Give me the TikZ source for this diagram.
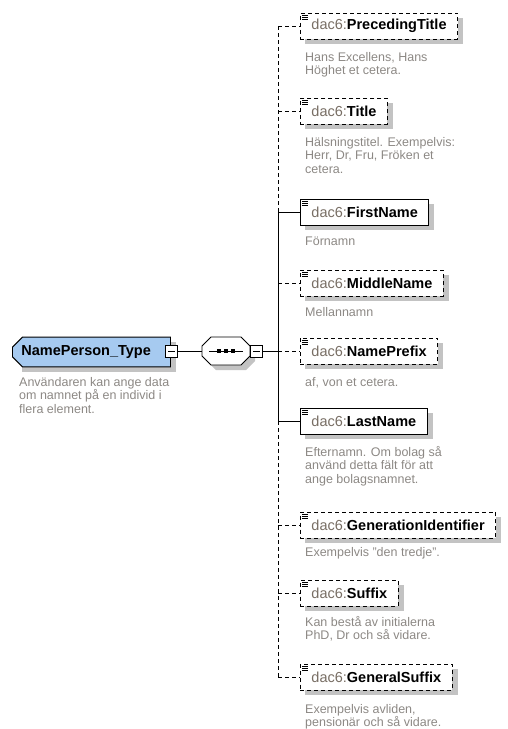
\documentclass[tikz,border=0pt]{standalone}
\usepackage{fontspec}
\setmainfont{Liberation Sans}
\usetikzlibrary {shapes.misc}
\usetikzlibrary {backgrounds}

\definecolor{rootblue}{RGB}{166,202,240}
\definecolor{prefixgray}{RGB}{120,110,100}
\definecolor{descgray}{RGB}{140,136,132}
\definecolor{shadowgray}{RGB}{195,195,195}

\begin{document}
\begin{tikzpicture}[x=1pt,y=-1pt,
    elem/.style={draw,line width=0.9pt,fill=white,anchor=west,minimum height=26pt,
        inner xsep=11pt,inner ysep=0pt,font=\fontsize{14.5}{17}\selectfont,
        path picture={\draw[solid,line width=0.8pt]
            ([shift={(2pt,-2pt)}]path picture bounding box.north west) -- ++(6pt,0pt)
            ++(-6pt,-2.2pt) -- ++(6pt,0pt) ++(-6pt,-2.2pt) -- ++(6pt,0pt);}},
    optelem/.style={elem,dash pattern=on 4pt off 3pt},
    desc/.style={anchor=north west,align=left,inner sep=0pt,text=descgray,
        font=\fontsize{12.5}{13.5}\selectfont},
    minusbox/.style={draw,line width=0.9pt,fill=white,minimum size=12pt,inner sep=0pt,
        path picture={\draw[line width=0.9pt]
            ([xshift=2.5pt]path picture bounding box.west) --
            ([xshift=-2.5pt]path picture bounding box.east);}},
    conn/.style={line width=0.9pt},
    optconn/.style={conn,dash pattern=on 4pt off 3pt}]

    %\draw [help lines,step=20] (0,0) grid (508,729);
    \useasboundingbox (0,0) rectangle (508,729);

    \path   (12,352) node (root) [chamfered rectangle,chamfered rectangle corners={north west,south west},
                chamfered rectangle sep=5pt,draw,line width=0.9pt,fill=rootblue,anchor=west,
                minimum height=28pt,text width=140pt,align=left,inner xsep=4pt,
                font=\fontsize{14.5}{17}\selectfont] {\bfseries NamePerson\_Type}
            (226,351) node (seq) [minimum width=48pt,minimum height=28pt,inner sep=0pt] {};

    % sequence compositor
    \draw[line width=0.9pt,fill=white] (seq.center) ++(-15,-14) -- ++(30,0) -- ++(9,9) -- ++(0,10)
        -- ++(-9,9) -- ++(-30,0) -- ++(-9,-9) -- ++(0,-10) -- cycle;
    \draw[line width=0.9pt] ([xshift=-17pt]seq.center) -- ([xshift=17pt]seq.center);
    \fill ([shift={(-9pt,-2pt)}]seq.center) rectangle ++(4pt,4pt);
    \fill ([shift={(-2pt,-2pt)}]seq.center) rectangle ++(4pt,4pt);
    \fill ([shift={(5pt,-2pt)}]seq.center) rectangle ++(4pt,4pt);

    \path   (171.5,351) node (rootminus) [minusbox] {}
            (256.5,351) node (seqminus) [minusbox] {};

    \coordinate (t) at (278,351);

    \path   (300,26) node (pt) [optelem] {\textcolor{prefixgray}{dac6:}\textbf{PrecedingTitle}}
            (300,111) node (ti) [optelem] {\textcolor{prefixgray}{dac6:}\textbf{Title}}
            (300,212) node (fn) [elem] {\textcolor{prefixgray}{dac6:}\textbf{FirstName}}
            (300,283) node (mn) [optelem] {\textcolor{prefixgray}{dac6:}\textbf{MiddleName}}
            (300,351) node (np) [optelem] {\textcolor{prefixgray}{dac6:}\textbf{NamePrefix}}
            (300,421) node (ln) [elem] {\textcolor{prefixgray}{dac6:}\textbf{LastName}}
            (300,525) node (gi) [optelem] {\textcolor{prefixgray}{dac6:}\textbf{GenerationIdentifier}}
            (300,593) node (sf) [optelem] {\textcolor{prefixgray}{dac6:}\textbf{Suffix}}
            (300,677) node (gs) [optelem] {\textcolor{prefixgray}{dac6:}\textbf{GeneralSuffix}};

    \path   (19,377) node (rootdesc) [desc] {Användaren kan ange data\\om namnet på en individ i\\flera element.}
            (305,52) node (ptdesc) [desc] {Hans Excellens, Hans\\Höghet et cetera.}
            (305,137) node (tidesc) [desc] {Hälsningstitel. Exempelvis:\\Herr, Dr, Fru, Fröken et\\cetera.}
            (305,237) node (fndesc) [desc] {Förnamn}
            (305,307) node (mndesc) [desc] {Mellannamn}
            (305,377) node (npdesc) [desc] {af, von et cetera.}
            (305,446) node (lndesc) [desc] {Efternamn. Om bolag så\\använd detta fält för att\\ange bolagsnamnet.}
            (305,547) node (gidesc) [desc] {Exempelvis "den tredje".}
            (305,616) node (sfdesc) [desc] {Kan bestå av initialerna\\PhD, Dr och så vidare.}
            (305,704) node (gsdesc) [desc] {Exempelvis avliden,\\pensionär och så vidare.};

    \draw[conn] (rootminus) -- (seq);
    \draw[conn] (seqminus) -- (t);
    \draw[optconn] (pt -| t) -- (fn -| t);
    \draw[conn] (fn -| t) -- (ln -| t);
    \draw[optconn] (ln -| t) -- (gs -| t);

    \draw[optconn] (pt -| t) -- (pt);
    \draw[optconn] (ti -| t) -- (ti);
    \draw[conn] (fn -| t) -- (fn);
    \draw[optconn] (mn -| t) -- (mn);
    \draw[optconn] (np -| t) -- (np);
    \draw[conn] (ln -| t) -- (ln);
    \draw[optconn] (gi -| t) -- (gi);
    \draw[optconn] (sf -| t) -- (sf);
    \draw[optconn] (gs -| t) -- (gs);

    % shadows
    \begin{pgfonlayer}{background}
        \fill[shadowgray] ([shift={(10,5)}]root.west |- root.north) rectangle ([shift={(5,5)}]root.east |- root.south);
        \fill[shadowgray] ([shift={(5,5)}]seq.center) ++(-15,-14) -- ++(30,0) -- ++(9,9) -- ++(0,10)
            -- ++(-9,9) -- ++(-30,0) -- ++(-9,-9) -- ++(0,-10) -- cycle;
        \fill[shadowgray] ([shift={(5,5)}]pt.north west) rectangle ([shift={(5,5)}]pt.south east);
        \fill[shadowgray] ([shift={(5,5)}]ti.north west) rectangle ([shift={(5,5)}]ti.south east);
        \fill[shadowgray] ([shift={(5,5)}]fn.north west) rectangle ([shift={(5,5)}]fn.south east);
        \fill[shadowgray] ([shift={(5,5)}]mn.north west) rectangle ([shift={(5,5)}]mn.south east);
        \fill[shadowgray] ([shift={(5,5)}]np.north west) rectangle ([shift={(5,5)}]np.south east);
        \fill[shadowgray] ([shift={(5,5)}]ln.north west) rectangle ([shift={(5,5)}]ln.south east);
        \fill[shadowgray] ([shift={(5,5)}]gi.north west) rectangle ([shift={(5,5)}]gi.south east);
        \fill[shadowgray] ([shift={(5,5)}]sf.north west) rectangle ([shift={(5,5)}]sf.south east);
        \fill[shadowgray] ([shift={(5,5)}]gs.north west) rectangle ([shift={(5,5)}]gs.south east);
    \end{pgfonlayer}

\end{tikzpicture}
\end{document}
